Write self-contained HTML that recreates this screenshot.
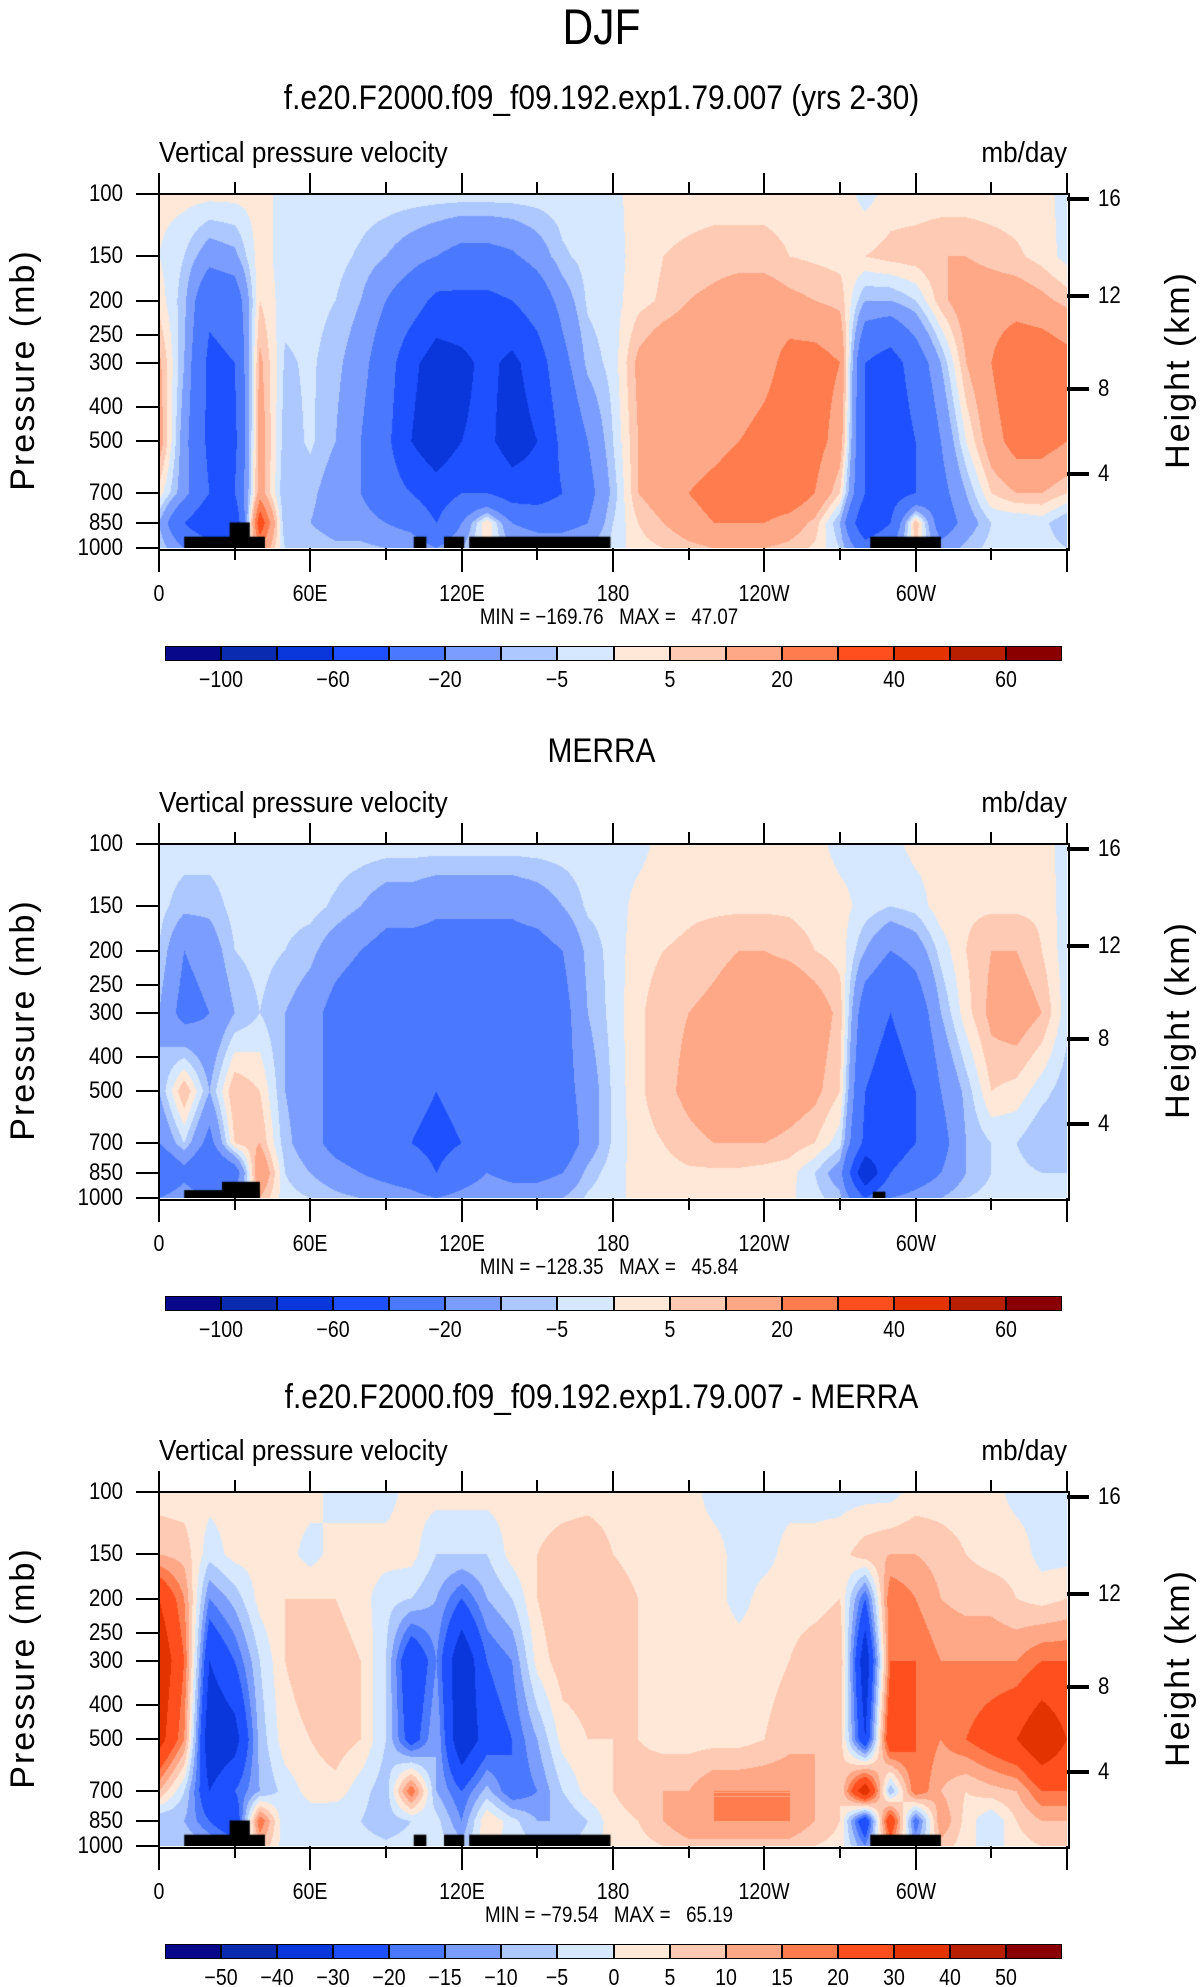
<!DOCTYPE html>
<html><head><meta charset="utf-8">
<style>
body{margin:0;background:#fff;}
#root{position:relative;width:1203px;height:1987px;overflow:hidden;background:#fff;font-family:"Liberation Sans",sans-serif;color:#000;}
.t{position:absolute;white-space:nowrap;line-height:1;}
canvas{position:absolute;}
.ln{position:absolute;background:#000;}
</style></head>
<body>
<div id="root">
<div class="t" style="left:0;width:1203px;text-align:center;top:2px;font-size:50px;font-weight:300;transform:scaleX(0.85);">DJF</div>
</div>
<script>
const PLEV=[100,150,200,300,500,700,850,1000];
const LON_STEP=10;
const HEIGHT_KM=['4','8','12','16'];
const HEIGHT_P=[616.4,356.5,194,103.5];
const P_TICKS=[100,150,200,250,300,400,500,700,850,1000];
const LON_TICKS=[0,30,60,90,120,150,180,210,240,270,300,330,360];
const LON_LABELS=['0','','60E','','120E','','180','','120W','','60W','',''];
const COLORS=['#08088a','#0a2bb0','#0a37db','#1e50ff','#4a78ff','#7b9dff','#adc7ff','#d5e8ff','#ffe8d8','#ffcab4','#ffa888','#ff7c4e','#ff4f1e','#e33300','#b81e00','#8a0000'];
const LEVELS_A=[-100,-80,-60,-40,-20,-10,-5,0,5,10,20,30,40,50,60];
const LABELS_A=['-100','','-60','','-20','','-5','','5','','20','','40','','60'];
const LEVELS_D=[-50,-40,-30,-20,-15,-10,-5,0,5,10,15,20,30,40,50];
const LABELS_D=['-50','-40','-30','-20','-15','-10','-5','0','5','10','15','20','30','40','50'];
const model=[
[2,2,2,2,2,-2,-2,-2,-2,-2,-2,-2,-2,-2,-2,-2,-2,-2,-2,3,3,3,3,3,3,3,3,3,-2,2,2,2,2,2,2,2,-2],
[0,-5,-15,-12,3,-3,-3,-3,-6,-10,-15,-20,-25,-25,-22,-15,-6,-3,-2,2,5,6,7,7,7,5,4,3,5,7,8,10,10,8,6,3,-2],
[3,-8,-35,-30,5,-3,-3,-5,-10,-20,-30,-45,-45,-45,-40,-30,-15,-4,-2,3,6,10,12,15,15,12,10,8,-10,-10,-5,8,15,15,15,12,8],
[12,-10,-45,-40,12,-6,-4,-8,-15,-30,-55,-70,-65,-55,-65,-50,-25,-8,-3,12,18,18,12,10,15,25,25,20,-40,-50,-30,-10,10,20,30,30,25],
[15,-15,-45,-45,15,-8,-4,-10,-20,-35,-60,-75,-60,-55,-70,-60,-35,-20,-5,10,15,12,15,20,25,30,25,15,-40,-55,-40,-20,0,15,25,25,20],
[3,-15,-40,-40,15,-10,-8,-15,-20,-30,-40,-50,-40,-40,-50,-50,-40,-25,-8,10,15,20,25,30,30,30,20,5,-40,-50,-40,-25,-10,5,10,10,5],
[-10,-40,-60,-60,40,-10,-10,-15,-15,-20,-25,-40,-20,5,-20,-25,-25,-20,-5,5,10,15,20,20,20,15,8,-10,-60,-40,10,-30,-15,-5,-5,-3,-10],
[-5,-20,-30,-30,20,-5,-5,-8,-8,-10,-12,-20,-10,3,-10,-12,-12,-10,-3,3,5,8,10,10,10,8,4,-5,-30,-20,5,-15,-8,-3,-3,-2,-5]];
const merra=[
[-2,-2,-2,-2,-2,-2,-2,-2,-2,-2,-2,-2,-2,-2,-2,-2,-2,-2,-2,-2,2,2,2,2,2,2,2,-2,-2,-2,2,2,2,2,2,2,-2],
[-3,-8,-8,-3,-2,-3,-3,-6,-10,-15,-15,-18,-18,-18,-18,-15,-10,-4,-3,2,3,4,4,4,4,4,3,2,-2,-5,-3,3,4,4,4,4,-3],
[-5,-20,-15,-5,-3,-5,-8,-15,-20,-25,-25,-25,-25,-25,-25,-25,-20,-8,-3,3,5,6,8,10,10,8,5,3,-10,-20,-15,-3,5,10,10,5,-3],
[-10,-25,-20,-10,-5,-10,-15,-25,-30,-30,-35,-40,-35,-30,-40,-30,-25,-10,-3,4,8,10,12,15,18,20,15,8,-30,-40,-30,-10,3,12,15,10,-3],
[-10,10,-10,10,5,-10,-15,-25,-30,-35,-35,-40,-35,-30,-40,-35,-25,-15,-4,4,8,12,15,18,18,15,12,5,-40,-50,-40,-20,-8,5,3,-3,-8],
[-20,-5,-25,5,10,-8,-15,-25,-30,-35,-40,-45,-40,-35,-35,-35,-30,-15,-4,3,5,8,10,10,10,8,5,-3,-45,-50,-40,-25,-10,-5,-5,-10,-10],
[-40,-25,-40,-30,20,-5,-10,-15,-20,-25,-30,-40,-30,-20,-25,-25,-20,-8,-2,2,3,4,4,4,3,2,-5,-15,-80,-40,-30,-20,-10,-5,-3,-5,-5],
[-20,-12,-20,-15,10,-3,-5,-8,-10,-12,-15,-20,-15,-10,-12,-12,-10,-4,-1,1,2,2,2,2,2,1,-3,-8,-40,-20,-15,-10,-5,-3,-2,-3,-3]];
const diff=[
[2,2,2,2,2,2,2,-2,-2,-2,2,2,2,2,2,2,2,2,2,2,2,2,-2,-2,-2,-2,-2,-2,-2,-2,2,2,2,2,-2,-2,-2],
[10,8,-3,2,2,2,-2,2,2,2,2,-5,-5,-5,2,5,8,10,5,3,2,2,2,-2,-2,2,2,3,8,10,10,8,5,3,3,-2,-2],
[30,15,-15,-8,2,5,5,5,2,-3,-5,-10,-20,-10,-5,5,10,10,8,5,3,2,2,-2,2,3,3,5,-20,20,15,10,8,8,5,3,5],
[40,20,-30,-20,-5,5,8,8,5,-5,-30,-15,-40,-20,-15,2,8,8,8,5,5,3,3,3,3,5,8,10,-40,20,20,15,15,15,15,20,20],
[35,15,-40,-35,-8,3,5,8,5,-5,-25,-10,-40,-25,-20,-10,2,5,5,5,3,3,3,3,5,8,10,8,-30,30,20,15,20,25,30,40,30],
[10,-5,-30,-20,-10,-3,2,3,-3,-8,20,-10,-20,-8,-20,-15,-5,2,5,8,10,10,15,15,15,15,10,5,40,-10,20,10,5,8,10,20,20],
[-10,-10,-20,-30,20,-5,-3,-5,-5,-8,-5,-3,-15,5,-3,-10,-10,-5,3,5,10,15,15,15,15,15,10,5,-30,30,-20,15,3,-5,5,10,10],
[-5,-5,-10,-15,10,-3,-2,-3,-3,-4,-3,-2,-8,3,-2,-5,-5,-3,2,3,5,8,8,8,8,8,5,3,-15,15,-10,8,2,-3,3,5,5]];
const TOPO_MODEL=[[10,42,929],[28,36,847],[101,106,929],[113,121,929],[123,179,929],[282,310,929]];
const TOPO_MERRA=[[10,40,950],[25,40,900],[283,288,960]];
const TITLES=['f.e20.F2000.f09_f09.192.exp1.79.007 (yrs 2-30)','MERRA','f.e20.F2000.f09_f09.192.exp1.79.007 - MERRA'];
const MINMAX=['MIN = \u2212169.76   MAX =   47.07','MIN = \u2212128.35   MAX =   45.84','MIN = \u221279.54   MAX =   65.19'];

const root=document.getElementById('root');
const PL=159,PW=908,PH=354;
function txt(parent,s,css){const d=document.createElement('div');d.className='t';d.textContent=s;d.style.cssText=css;parent.appendChild(d);return d;}
function line(parent,x,y,w,h){const d=document.createElement('div');d.className='ln';d.style.cssText=`left:${x}px;top:${y}px;width:${w}px;height:${h}px;`;parent.appendChild(d);return d;}
function xOf(lon){return PL+lon/360*PW;}
function yOf(top,p){return top+PH*Math.log10(p/100);}
function val(grid,lon,p){
  const c=lon/LON_STEP;let i=Math.floor(c);if(i>=grid[0].length-1)i=grid[0].length-2;const fx=c-i;
  const lp=Math.log(p);let j=0;while(j<PLEV.length-2&&p>PLEV[j+1])j++;
  const fy=(lp-Math.log(PLEV[j]))/(Math.log(PLEV[j+1])-Math.log(PLEV[j]));
  const a=grid[j][i]*(1-fx)+grid[j][i+1]*fx, b=grid[j+1][i]*(1-fx)+grid[j+1][i+1]*fx;
  return a*(1-fy)+b*fy;}
function hex(h){return [parseInt(h.substr(1,2),16),parseInt(h.substr(3,2),16),parseInt(h.substr(5,2),16)];}
const RGB=COLORS.map(hex);

function panel(k,top,titleY,grid,levels,labels,topo){
  const g=document.createElement('div');
  
  
  g.style.cssText='position:absolute;left:0;top:0;';
  root.appendChild(g);
  const t=txt(g,TITLES[k],`left:0;width:1203px;text-align:center;top:${titleY-18}px;font-size:34px;transform:scaleX(0.88);`);
  
  
  const v=txt(g,'Vertical pressure velocity',`left:${PL}px;top:${top-55}px;font-size:29px;transform:scaleX(0.9);transform-origin:left;`);
  
  
  const u=txt(g,'mb/day',`left:${PL+PW-120}px;width:120px;text-align:right;top:${top-55}px;font-size:29px;transform:scaleX(0.9);transform-origin:right;`);
  
  
  const cv=document.createElement('canvas');
  
  
  cv.width=PW;cv.height=PH;cv.style.left=PL+'px';cv.style.top=top+'px';
  g.appendChild(cv);
  const ctx=cv.getContext('2d');const im=ctx.createImageData(PW,PH);
  for(let y=0;y<PH;y++){const p=100*Math.pow(10,(y+0.5)/PH);
    for(let x=0;x<PW;x++){const lon=(x+0.5)/PW*360;const vv=val(grid,lon,p);
      let ci=0;while(ci<levels.length&&vv>=levels[ci])ci++;
      const c=RGB[ci];const o=(y*PW+x)*4;im.data[o]=c[0];im.data[o+1]=c[1];im.data[o+2]=c[2];im.data[o+3]=255;}}
  ctx.putImageData(im,0,0);
  ctx.fillStyle='#000';
  topo.forEach(b=>{const x0=b[0]/360*PW,x1=b[1]/360*PW,y0=PH*Math.log10(b[2]/100);ctx.fillRect(x0,y0,x1-x0,PH-y0);});
  const fr=document.createElement('div');
  
  
  fr.style.cssText=`position:absolute;left:${PL-1}px;top:${top-1}px;width:${PW}px;height:${PH}px;border:2px solid #000;`;
  g.appendChild(fr);
  LON_TICKS.forEach((lon,i)=>{const x=xOf(lon);const major=lon%60===0;
    const lt=line(g,x-1,top-(major?21:12),2,major?21:12);
    
    
    const lb=line(g,x-1,top+PH,2,major?24:12);
    
    
    if(LON_LABELS[i]){const l=txt(g,LON_LABELS[i],`left:${x-60}px;width:120px;text-align:center;top:${top+PH+34}px;font-size:23px;transform:scaleX(0.85);`);
      
      }
  });
  P_TICKS.forEach(p=>{const y=yOf(top,p);
    const tk=line(g,PL-23,y-1,23,2);
    
    
    const l=txt(g,String(p),`left:${PL-36-100}px;width:100px;text-align:right;top:${y-12}px;font-size:24px;transform:scaleX(0.85);transform-origin:right;`);
    
    });
  HEIGHT_P.forEach((p,i)=>{const y=yOf(top,p);
    const tk=line(g,PL+PW,y-2,22,4);
    
    
    const l=txt(g,HEIGHT_KM[i],`left:${PL+PW+31}px;top:${y-12}px;font-size:24px;transform:scaleX(0.85);transform-origin:left;`);
    
    });
  const pt=txt(g,'Pressure  (mb)',`left:${23-160}px;width:320px;text-align:center;top:${top+PH/2-18}px;font-size:34px;letter-spacing:2px;transform:rotate(-90deg);`);
  
  
  const ht=txt(g,'Height  (km)',`left:${1178-160}px;width:320px;text-align:center;top:${top+PH/2-18}px;font-size:34px;letter-spacing:2px;transform:rotate(-90deg);`);
  
  
  const mm=txt(g,MINMAX[k],`left:${609-200}px;width:400px;text-align:center;top:${top+PH+58}px;font-size:22px;white-space:pre;transform:scaleX(0.85);`);
  
  
  const cbx=165,cbw=897,cby=top+PH+98,bw=cbw/COLORS.length;
  COLORS.forEach((c,i)=>{const b=document.createElement('div');
    
    
    b.style.cssText=`position:absolute;left:${cbx+i*bw}px;top:${cby}px;width:${bw}px;height:15px;background:${c};box-sizing:border-box;border:1px solid #000;`;
    g.appendChild(b);});
  labels.forEach((s,i)=>{if(!s)return;const x=cbx+(i+1)*bw;
    const l=txt(g,s.replace('-','\u2212'),`left:${x-40}px;width:80px;text-align:center;top:${cby+22}px;font-size:23px;transform:scaleX(0.85);`);
    
    });
}
panel(0,194,99,model,LEVELS_A,LABELS_A,TOPO_MODEL);
panel(1,844,752,merra,LEVELS_A,LABELS_A,TOPO_MERRA);
panel(2,1492,1398,diff,LEVELS_D,LABELS_D,TOPO_MODEL);
</script>
</body></html>
